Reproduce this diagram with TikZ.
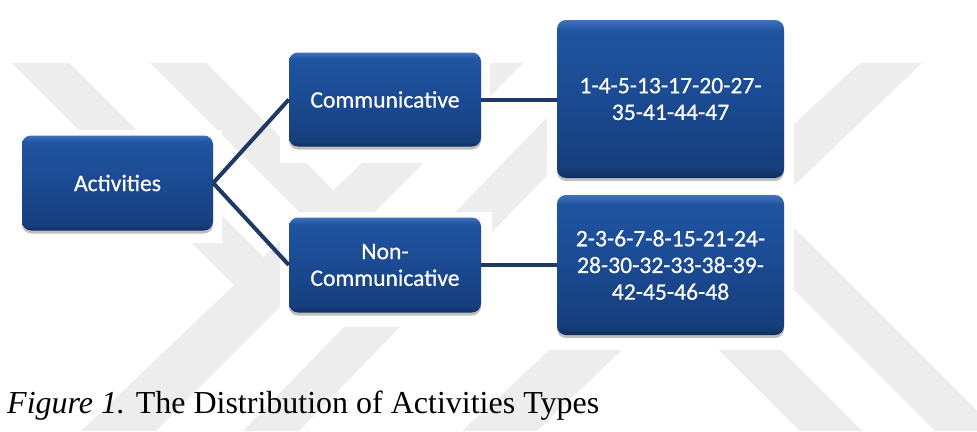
\documentclass[tikz,border=0pt]{standalone}
\usepackage{fontspec}
\setmainfont{Liberation Serif}
\newfontfamily\boxfont[FakeBold=0.6]{Carlito}
\usetikzlibrary{shadows}
\definecolor{wm}{RGB}{237,237,237}
\definecolor{stop}{RGB}{64,112,190}
\definecolor{shigh}{RGB}{31,84,160}
\definecolor{smid}{RGB}{27,74,146}
\definecolor{slow}{RGB}{22,62,124}
\definecolor{sbot}{RGB}{16,44,92}
\definecolor{linkc}{RGB}{31,56,100}
\pgfdeclareverticalshading{boxshade}{100bp}{color(0bp)=(sbot); color(25bp)=(sbot); color(28bp)=(slow); color(50bp)=(smid); color(71.5bp)=(shigh); color(75bp)=(stop); color(100bp)=(stop)}
\begin{document}
\begin{tikzpicture}[x=1pt,y=-1pt,
  box/.style={rounded corners=9pt, shading=boxshade,
    text=white, font=\boxfont\fontsize{23.6}{26.7}\selectfont, align=center, inner sep=0pt,
    drop shadow={shadow xshift=0pt, shadow yshift=-3pt, opacity=0.25, fill=black}},
  linkline/.style={draw=linkc, line width=4pt},
  band/.style={fill=wm},
  blank/.style={fill=white}]
\useasboundingbox (0,0) rectangle (977,431);
\fill[white] (0,0) rectangle (977,431);
% watermark
\begin{scope}
  \clip (0,63) rectangle (977,431);
  \fill[band] (467,63) -- (523,63) -- (156,431) -- (81,431) -- cycle;
  \fill[band] (12,63) -- (69,63) -- (294,288) -- (237,288) -- cycle;
  \fill[band] (150,63) -- (206,63) -- (363,220) -- (307,220) -- cycle;
  \fill[band] (600,63) -- (656,63) -- (299,431) -- (243,431) -- cycle;
  \fill[band] (860,63) -- (922,63) -- (537,431) -- (462,431) -- cycle;
  \fill[band] (800,431) -- (862,431) -- (686,255) -- (654,286) -- cycle;
  \fill[band] (935,431) -- (997,431) -- (756,190) -- (724,220) -- cycle;
\end{scope}
% plain backgrounds of the boxes
\fill[blank] (13,130) rectangle (222,243);
\fill[blank] (280,45) rectangle (490,163);
\fill[blank] (280,212) rectangle (492,327);
\fill[blank] (547,10) rectangle (794,350);
% boxes
\node[box, minimum width=191pt, minimum height=95pt] (act) at (117.5,183) {Activities};
\node[box, minimum width=192pt, minimum height=94pt] (com) at (385,99.5) {Communicative};
\node[box, minimum width=192pt, minimum height=95pt] (non) at (385,265) {Non-\\Communicative};
\node[box, minimum width=227pt, minimum height=158pt] (n1) at (670.5,99) {1-4-5-13-17-20-27-\\35-41-44-47};
\node[box, minimum width=227pt, minimum height=140pt] (n2) at (670.5,265) {2-3-6-7-8-15-21-24-\\28-30-32-33-38-39-\\42-45-46-48};
% connectors
\draw[linkline] (act.east) -- (com.west);
\draw[linkline] (act.east) -- (non.west);
\draw[linkline] (com.east) -- (com.east -| n1.west);
\draw[linkline] (non.east) -- (non.east -| n2.west);
% caption
\node[anchor=base west, inner sep=0pt, font=\fontsize{32}{38}\selectfont] (cap) at (7,413)
  {\textit{Figure 1.} The Distribution of Activities Types};
\end{tikzpicture}
\end{document}
